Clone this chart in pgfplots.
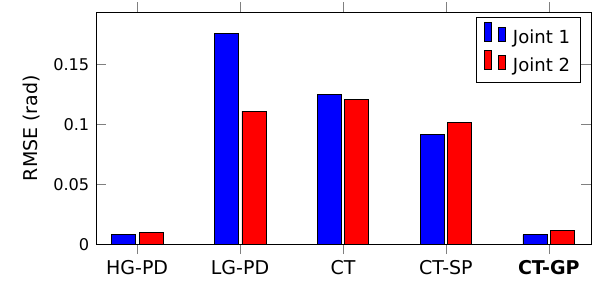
\documentclass[border=0pt]{standalone}
\usepackage{fontspec}
\setmainfont{DejaVu Sans}
\usepackage{pgfplots}
\pgfplotsset{compat=1.18}
\begin{document}
\begin{tikzpicture}
\begin{axis}[
  scale only axis,
  width=260.5pt, height=122.1pt,
  ybar=2pt, bar width=12.6pt,
  xmin=-0.4, xmax=4.41,
  ymin=0, ymax=0.1936,
  xtick={0,1,2,3,4},
  xticklabels={HG-PD,LG-PD,CT,CT-SP,\textbf{CT-GP}},
  xtick align=outside,
  major tick length=5.2pt,
  ytick={0,0.05,0.1,0.15},
  scaled y ticks=false,
  yticklabel style={/pgf/number format/fixed, font=\fontsize{8.5}{10}\selectfont},
  /pgf/number format/assume math mode=true,
  ylabel={RMSE (rad)},
  legend style={font=\fontsize{9.5}{11}\selectfont, inner xsep=3.6pt, inner ysep=2.4pt},
  legend cell align=left,
  legend image code/.code={%
    \draw[#1] (0pt,-1.9pt) rectangle (3.7pt,8.3pt);
    \draw[#1] (7.5pt,-1.9pt) rectangle (11.2pt,5.7pt);
    \path[draw=none,fill=none] (0pt,-1.9pt) -- (13.2pt,-1.9pt);
  },
]
\addplot[draw=black, fill=blue] coordinates {(0,0.0083) (1,0.176) (2,0.125) (3,0.0915) (4,0.0078)};
\addplot[draw=black, fill=red] coordinates {(0,0.0100) (1,0.111) (2,0.121) (3,0.1015) (4,0.0114)};
\legend{Joint 1, Joint 2}
\end{axis}
\path (current axis.south west) ++(-50.5pt,-16.8pt) rectangle ++(314.7pt,145.3pt);
\end{tikzpicture}
\end{document}
